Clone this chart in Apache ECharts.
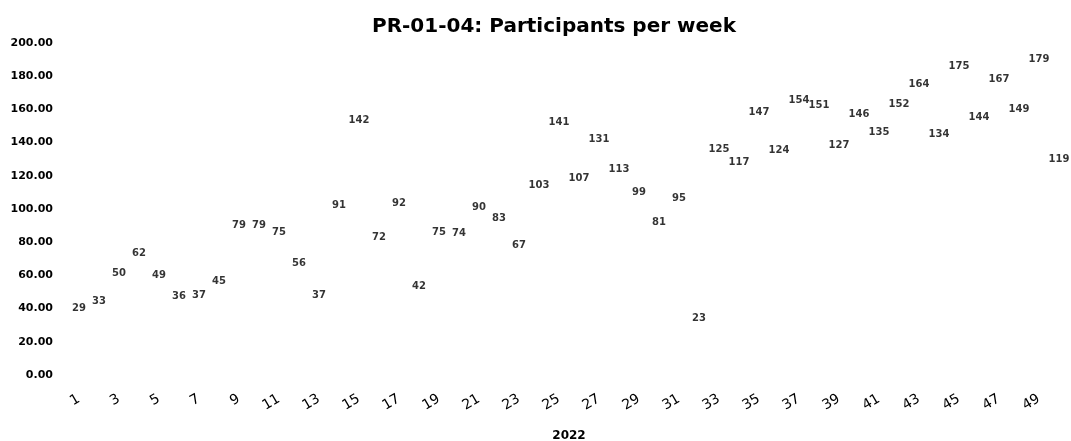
<!DOCTYPE html>
<html><head><meta charset="utf-8">
<script src="https://cdn.jsdelivr.net/npm/echarts@6/dist/echarts.min.js"></script>
<style>html,body{margin:0;padding:0;background:#fff}#c{width:1071px;height:441px}</style>
</head><body><div id="c"></div>
<script>
var weeks = [];
for (var i = 1; i <= 50; i++) weeks.push(String(i));
var participants = [29,33,50,62,49,36,37,45,79,79,75,56,37,91,142,72,92,42,75,74,90,83,67,103,141,107,131,113,99,81,95,23,125,117,147,124,154,151,127,146,135,152,164,134,175,144,167,149,179,119];
var titleText = 'PR-01-04: Participants per week';
var xName = '2022';

var chart = echarts.init(document.getElementById('c'));
chart.setOption({
  animation: false,
  backgroundColor: '#fff',
  title: {text: titleText, left: 367, top: 12,
    textStyle: {fontFamily: 'DejaVu Sans', fontWeight: 'bold', fontSize: 20, color: '#000'}},
  grid: {left: 69, right: 2, top: 43, bottom: 66, containLabel: false, outerBoundsMode: 'none'},
  xAxis: {type: 'category', data: weeks, boundaryGap: true,
    name: xName, nameLocation: 'middle', nameGap: 55,
    nameTextStyle: {fontFamily: 'DejaVu Sans', fontWeight: 'bold', fontSize: 12, color: '#000'},
    axisLine: {show: false}, axisTick: {show: false}, splitLine: {show: false},
    axisLabel: {interval: 1, rotate: 30, margin: 23, fontFamily: 'DejaVu Sans', fontSize: 14, color: '#000'}},
  yAxis: {type: 'value', min: 0, max: 200, interval: 20,
    axisLine: {show: false}, axisTick: {show: false}, splitLine: {show: false},
    axisLabel: {margin: 16, fontFamily: 'DejaVu Sans', fontWeight: 'bold', fontSize: 11, color: '#000',
      formatter: function(v){return v.toFixed(2);}}},
  series: [{type: 'scatter', data: participants, symbolSize: 1,
    itemStyle: {color: 'rgba(0,0,0,0)'},
    label: {show: true, position: 'top', distance: 13,
      fontFamily: 'DejaVu Sans', fontWeight: 'bold', fontSize: 10, color: '#000'}}]
});
</script></body></html>
